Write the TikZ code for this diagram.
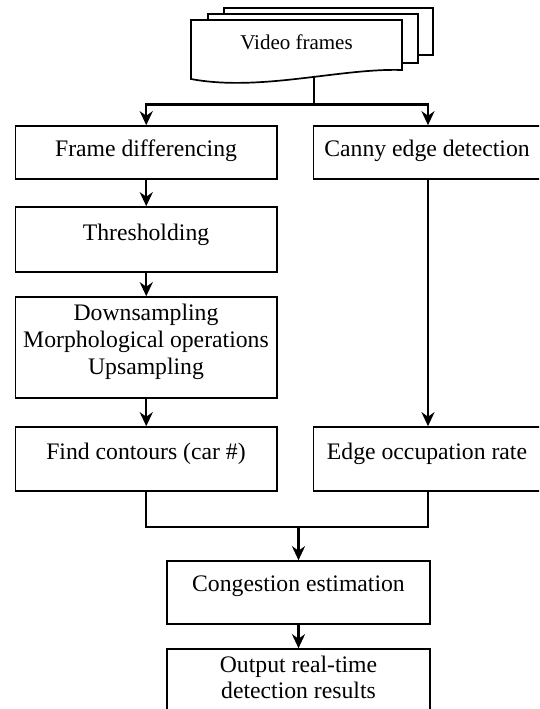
\documentclass[tikz,border=0pt]{standalone}
\usepackage{fontspec}
\setmainfont{Liberation Serif}
\usetikzlibrary{arrows.meta}
\begin{document}
\begin{tikzpicture}[x=1pt,y=-1pt,
  box/.style={draw, line width=1.6pt, rectangle, inner sep=0pt, minimum width=261.5pt},
  txt/.style={font=\fontsize{23.7}{27}\selectfont, inner sep=0pt, anchor=base},
  conn/.style={line width=2.4pt},
  arr/.style={conn, -{Stealth[length=14pt,width=13pt,inset=4.5pt]}},
  page/.style={line width=1.7pt, fill=white, line join=miter}]
\useasboundingbox (0,0) rectangle (539,709);
\clip (0,0) rectangle (539,709);
\fill[white] (0,0) rectangle (539,709);

% stacked document shape
\draw[page] (224,14) -- (224,8) -- (433,8) -- (433,55) -- (418,55);
\draw[page] (208,20) -- (208,14) -- (418,14) -- (418,63) -- (402,63);
\draw[page] (191,20) -- (402,20) -- (402,70) .. controls (340,68) and (260,92) .. (191,79) -- cycle;
\node[txt, font=\fontsize{21}{25}\selectfont] (doc) at (296.5,50) {Video frames};
\coordinate (docout) at (314,75.5);
\coordinate (rc) at (428,0);

% boxes
\node[box, minimum height=53pt] (fd) at (146.25,152.5) {};
\node[box, minimum height=53pt] (canny) at (444.25,152.5) {};
\node[box, minimum height=65pt] (th) at (146.25,239.5) {};
\node[box, minimum height=101pt] (ds) at (146.25,347.5) {};
\node[box, minimum height=64pt] (fc) at (146.25,459) {};
\node[box, minimum height=64pt] (eor) at (444.25,459) {};
\node[box, minimum width=263pt, minimum height=63pt] (ce) at (298.5,592.5) {};
\node[box, minimum width=263pt, minimum height=81pt] (out) at (298.5,689.5) {};

% texts
\node[txt] (tfd) at (146,156) {Frame differencing};
\node[txt] (tcanny) at (427,156) {Canny edge detection};
\node[txt] (tth) at (146,240) {Thresholding};
\node[txt] (tds1) at (146,320) {Downsampling};
\node[txt] (tds2) at (146,347) {Morphological operations};
\node[txt] (tds3) at (146,374) {Upsampling};
\node[txt] (tfc) at (146,459) {Find contours (car \#)};
\node[txt] (teor) at (427,459) {Edge occupation rate};
\node[txt] (tce) at (298.5,591) {Congestion estimation};
\node[txt] (tout1) at (298.5,672) {Output real-time};
\node[txt] (tout2) at (298.5,698) {detection results};

% connectors
\coordinate (split) at (314,104.5);
\draw[conn] (docout) -- (split);
\draw[arr] (split) -| (fd.north);
\draw[arr] (split) -| (canny.north -| rc);
\draw[arr] (fd) -- (th);
\draw[arr] (th) -- (ds);
\draw[arr] (ds) -- (fc);
\draw[arr] (canny.south -| rc) -- (eor.north -| rc);
\coordinate (mj) at (298.5,527);
\draw[conn] (fc.south) |- (mj) -| (eor.south -| rc);
\draw[arr] (mj) -- (ce.north);
\draw[arr] (ce) -- (out);
\end{tikzpicture}
\end{document}
